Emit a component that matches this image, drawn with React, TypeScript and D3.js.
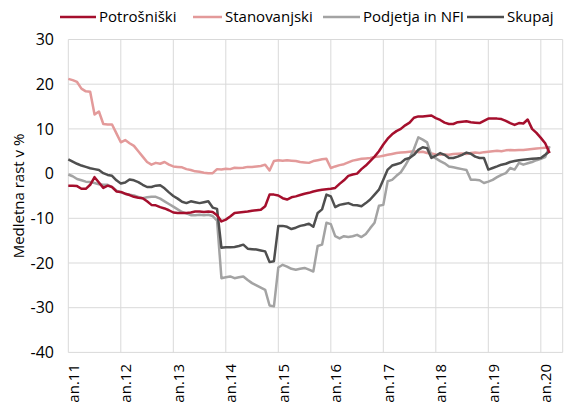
import React from "react";
import * as d3 from "d3";

const xTickLabels = ["an.11","an.12","an.13","an.14","an.15","an.16","an.17","an.18","an.19","an.20"];
const yTicks = [30, 20, 10, 0, -10, -20, -30, -40];

// monthly values, Jan 2011 .. Mar 2020
const potrosniski = [
  -2.7,-2.7,-2.8,-3.4,-3.4,-2.5,-0.8,-2.0,-3.2,-2.7,-3.0,-4.0,
  -4.1,-4.5,-4.8,-5.2,-5.4,-5.5,-6.2,-7.0,-7.1,-7.5,-7.8,-8.2,
  -8.7,-8.8,-8.8,-8.8,-8.7,-8.5,-8.5,-8.6,-8.5,-8.6,-9.3,-10.7,
  -10.3,-9.6,-8.8,-8.7,-8.6,-8.5,-8.3,-8.2,-8.1,-7.3,-4.7,-4.7,
  -4.9,-5.5,-5.8,-5.3,-5.1,-4.8,-4.5,-4.3,-4.0,-3.8,-3.6,-3.5,
  -3.4,-3.2,-2.3,-1.5,-0.5,-0.2,0.0,1.0,1.8,2.8,3.8,5.0,
  6.5,7.8,8.8,9.5,10.0,10.8,11.4,12.5,12.8,12.8,12.9,13.0,
  12.4,12.0,11.4,11.1,11.1,11.5,11.6,11.7,11.5,11.4,11.3,11.8,
  12.3,12.3,12.3,12.2,11.8,11.3,10.9,11.3,11.2,12.1,10.0,9.1,
  8.0,6.8,4.6
];
const stanovanjski = [
  21.2,20.9,20.5,19.0,18.4,18.3,13.2,13.9,11.1,11.0,11.0,9.0,
  7.0,7.5,6.8,6.2,5.0,3.8,2.6,2.0,2.4,2.2,2.6,2.0,
  1.6,1.5,1.4,1.0,0.8,0.5,0.4,0.2,0.1,0.1,1.0,0.9,
  1.1,1.0,1.3,1.25,1.3,1.5,1.5,1.6,1.7,2.0,0.7,2.8,
  3.0,2.9,3.0,2.9,2.8,2.6,2.5,2.4,2.8,3.0,3.2,3.3,
  1.25,1.6,1.9,2.1,2.5,2.9,3.1,3.3,3.4,3.5,3.7,3.8,
  4.0,4.2,4.4,4.6,4.7,4.8,4.9,5.0,4.8,4.9,4.6,4.5,
  4.3,4.2,4.3,4.2,4.4,4.45,4.5,4.4,4.6,4.7,4.6,4.8,
  4.9,5.0,5.1,5.0,5.2,5.3,5.2,5.3,5.3,5.4,5.5,5.6,
  5.7,5.8,5.9
];
const podjetja = [
  -0.2,-0.6,-1.2,-1.5,-1.8,-1.9,-2.1,-2.4,-2.5,-2.5,-3.0,-3.8,
  -4.2,-4.5,-4.7,-4.9,-5.2,-5.5,-5.3,-5.2,-5.2,-5.6,-6.2,-6.8,
  -7.4,-8.0,-8.6,-8.9,-9.3,-9.3,-9.2,-9.3,-9.2,-9.5,-10.5,-23.4,
  -23.2,-23.0,-23.4,-23.2,-23.0,-23.8,-24.5,-25.0,-25.5,-26.0,-29.5,-29.7,
  -21.0,-20.4,-20.8,-21.3,-21.5,-21.3,-21.1,-21.5,-21.9,-16.2,-15.9,-11.0,
  -11.3,-14.0,-14.5,-14.0,-14.2,-14.0,-13.7,-14.2,-13.5,-12.2,-11.0,-7.2,
  -7.0,-1.7,-1.4,-0.5,0.3,1.8,3.5,5.5,8.1,7.6,7.0,4.0,
  3.4,2.8,2.3,1.6,1.4,1.2,1.0,0.8,-1.4,-1.4,-1.5,-2.1,
  -1.8,-1.4,-0.8,-0.3,0.1,1.25,0.9,2.4,2.0,2.3,2.6,3.0,
  3.3,3.7,6.1
];
const skupaj = [
  3.2,2.7,2.2,1.8,1.5,1.2,1.0,0.8,0.1,-0.3,-0.5,-1.5,
  -2.2,-2.0,-1.3,-1.5,-1.9,-2.5,-3.0,-3.0,-2.7,-2.6,-3.3,-4.2,
  -5.0,-5.6,-6.3,-6.6,-6.2,-6.4,-6.6,-6.4,-6.2,-7.6,-7.9,-16.6,
  -16.5,-16.5,-16.4,-16.2,-15.9,-16.8,-16.9,-17.0,-17.2,-17.4,-19.8,-19.6,
  -11.7,-11.7,-11.9,-12.4,-12.1,-11.7,-11.5,-11.2,-11.9,-8.8,-8.0,-4.7,
  -5.1,-7.5,-7.0,-6.8,-6.6,-7.0,-7.1,-7.3,-6.6,-5.8,-4.7,-3.6,
  -1.4,0.9,1.8,2.1,2.4,3.2,3.5,4.2,5.3,5.9,5.7,3.5,
  4.0,4.6,4.2,3.5,3.5,3.8,4.2,4.7,4.45,3.8,3.5,3.5,
  0.9,1.25,1.6,2.0,2.2,2.6,2.8,3.0,3.1,3.2,3.3,3.4,
  3.5,4.2,5.0
];

const seriesNames = ["Potrošniški", "Stanovanjski", "Podjetja in NFI", "Skupaj"];
const seriesData = [potrosniski, stanovanjski, podjetja, skupaj];
const seriesColors = ["#a50f2d", "#e39a9a", "#a3a3a3", "#4f4f4f"];
const drawOrder = [1, 2, 3, 0];

const W = 564, H = 404;
const font = "'Open Sans', sans-serif";

export default function App() {
  const x = d3.scaleLinear().domain([0, 113]).range([68.3, 562.7]);
  const y = d3.scaleLinear().domain([-40, 30]).range([352.4, 39.5]);
  const line = d3.line<number>().x((_, i) => x(i)).y(d => y(d));
  const grid = "#d9d9d9";
  const legendItems = [
    { x1: 60, x2: 96, tx: 99 },
    { x1: 193, x2: 222, tx: 225 },
    { x1: 323, x2: 360, tx: 363 },
    { x1: 467, x2: 504, tx: 507 },
  ];
  return (
    <svg width={W} height={H} style={{ position: "absolute", left: 0, top: 0 }}>
      <rect width={W} height={H} fill="#fff" />
      {yTicks.map(t => (
        <line key={"h" + t} x1={x(0)} x2={x(113)} y1={y(t)} y2={y(t)} stroke={grid} strokeWidth={1} />
      ))}
      {xTickLabels.map((_, k) => (
        <line key={"v" + k} x1={x(k * 12)} x2={x(k * 12)} y1={y(30)} y2={y(-40)} stroke={grid} strokeWidth={1} />
      ))}
      <line x1={x(113)} x2={x(113)} y1={y(30)} y2={y(-40)} stroke={grid} strokeWidth={1} />
      {yTicks.map(t => (
        <text key={"yt" + t} x={54} y={y(t)} dy="0.35em" textAnchor="end" fontFamily={font} fontSize={16} fill="#000">{t}</text>
      ))}
      {xTickLabels.map((lab, k) => (
        <text key={"xt" + k} transform={`translate(${x(k * 12) + 5},364) rotate(-90)`} dy="0.35em" textAnchor="end" fontFamily={font} fontSize={15} fill="#000">{lab}</text>
      ))}
      <text transform={`translate(24,196) rotate(-90)`} textAnchor="middle" fontFamily={font} fontSize={15} fill="#000">Medletna rast v %</text>
      {drawOrder.map(si => (
        <path key={"s" + si} d={line(seriesData[si]) || ""} fill="none" stroke={seriesColors[si]} strokeWidth={2.5} strokeLinejoin="round" />
      ))}
      {seriesNames.map((n, si) => (
        <g key={"lg" + si}>
          <line x1={legendItems[si].x1} x2={legendItems[si].x2} y1={17} y2={17} stroke={seriesColors[si]} strokeWidth={2.5} />
          <text x={legendItems[si].tx} y={17} dy="0.35em" fontFamily={font} fontSize={15} fill="#000">{n}</text>
        </g>
      ))}
    </svg>
  );
}
